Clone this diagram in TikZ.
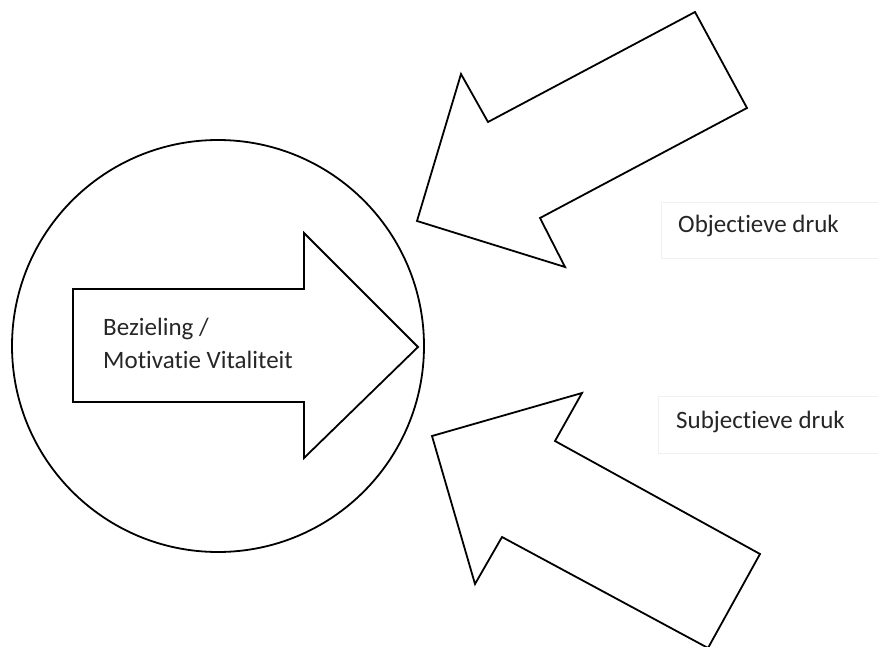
\documentclass[tikz,border=0pt]{standalone}
\usepackage{fontspec}
\setmainfont[Ligatures=NoCommon]{Carlito}
\begin{document}
\begin{tikzpicture}[x=1pt,y=-1pt,
  shape line/.style={draw=black,line width=1.8pt,line join=miter,fill=white},
  lbl/.style={font=\fontsize{25}{33}\selectfont,text=black!85,anchor=base west,inner sep=0pt},
  lblbox/.style={draw=black!6,line width=0.8pt,fill=white}]
\useasboundingbox (0,0) rectangle (878,647);
% circle
\draw[shape line] (218,346) circle (206);
% inner right arrow
\draw[shape line] (73,289) -- (304,289) -- (304,233) -- (418,347) -- (304,458) -- (304,402) -- (73,402) -- cycle;
\node[lbl] (bez) at (103,335) {Bezieling /};
\node[lbl] (mot) at (103,368) {Motivatie Vitaliteit};
% top arrow
\draw[shape line] (695,12) -- (747,108) -- (540,218) -- (565,267) -- (417,221) -- (461,74) -- (488,122) -- cycle;
% bottom arrow
\draw[shape line] (582,393) -- (555,441) -- (760,554) -- (708,648) -- (502,537) -- (475,584) -- (432,436) -- cycle;
% label boxes
\draw[lblbox] (878,202) -- (661,202) -- (661,258) -- (878,258);
\node[lbl] (obj) at (678,233) {Objectieve druk};
\draw[lblbox] (878,396) -- (658,396) -- (658,453) -- (878,453);
\node[lbl] (sub) at (676,428) {Subjectieve druk};
\end{tikzpicture}
\end{document}
